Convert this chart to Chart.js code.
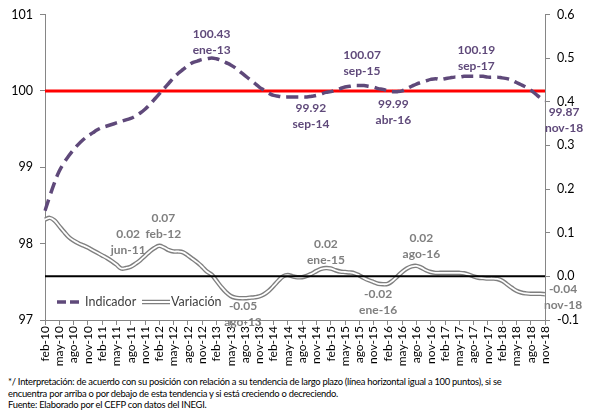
<!DOCTYPE html>
<html>
<head>
<meta charset="utf-8">
<script src="https://cdn.jsdelivr.net/npm/chart.js@4.4.1/dist/chart.umd.min.js"></script>
<style>
  body { margin: 0; background: #fff; width: 590px; height: 412px; overflow: hidden; font-family: Lato, sans-serif; }
  #wrap { position: relative; width: 590px; height: 376px; }
  .note { font-size: 9.4px; letter-spacing: -0.26px; color: #000; margin-left: 8px; line-height: 11.5px; white-space: nowrap; }
</style>
</head>
<body>
<div id="wrap"><canvas id="chart" width="590" height="376"></canvas></div>
<div class="note">*/ Interpretación: de acuerdo con su posición con relación a su tendencia de largo plazo (línea horizontal igual a 100 puntos), si se</div>
<div class="note">encuentra por arriba o por debajo de esta tendencia y si está creciendo o decreciendo.</div>
<div class="note">Fuente: Elaborado por el CEFP con datos del INEGI.</div>
<script>
const FONT = 'Lato, sans-serif';
const MONTHS = ['ene', 'feb', 'mar', 'abr', 'may', 'jun', 'jul', 'ago', 'sep', 'oct', 'nov', 'dic'];

// monthly labels feb-10 .. nov-18
const labels = [];
for (let y = 2010; y <= 2018; y++) {
    for (let m = 0; m < 12; m++) {
        if (y === 2010 && m < 1) continue;
        if (y === 2018 && m > 10) continue;
        labels.push(MONTHS[m] + '-' + String(y).slice(2));
    }
}

// Indicador (left axis, puntos)
const indicador = [
    98.43, 98.62, 98.80, 98.95, 99.06, 99.15, 99.23, 99.30, 99.36, 99.41, 99.45,          // 2010 feb-dic
    99.49, 99.52, 99.54, 99.56, 99.58, 99.60, 99.62, 99.64, 99.67, 99.71, 99.76, 99.82,   // 2011
    99.89, 99.96, 100.03, 100.10, 100.17, 100.23, 100.28, 100.33, 100.37, 100.39, 100.41, 100.42, // 2012
    100.43, 100.42, 100.40, 100.37, 100.34, 100.30, 100.25, 100.20, 100.15, 100.10, 100.05, 100.01, // 2013
    99.97, 99.94, 99.93, 99.92, 99.92, 99.92, 99.92, 99.92, 99.92, 99.93, 99.94, 99.96,   // 2014
    99.98, 99.99, 100.01, 100.03, 100.05, 100.06, 100.07, 100.07, 100.07, 100.06, 100.05, 100.03, // 2015
    100.02, 100.00, 99.99, 99.99, 100.00, 100.03, 100.06, 100.09, 100.11, 100.13, 100.15, 100.16, // 2016
    100.15, 100.16, 100.17, 100.18, 100.18, 100.19, 100.19, 100.19, 100.19, 100.19, 100.18, 100.18, // 2017
    100.18, 100.17, 100.16, 100.14, 100.11, 100.08, 100.05, 100.01, 99.96, 99.91, 99.87   // 2018 ene-nov
];

// Variación (right axis)
const variacion = [
    0.130, 0.134, 0.128, 0.115, 0.102, 0.090, 0.082, 0.076, 0.071, 0.066, 0.060,
    0.054, 0.048, 0.042, 0.035, 0.027, 0.018, 0.019, 0.022, 0.029, 0.037, 0.047, 0.057,
    0.065, 0.070, 0.066, 0.060, 0.057, 0.057, 0.055, 0.048, 0.040, 0.032, 0.022, 0.011,
    0.004, -0.010, -0.024, -0.036, -0.045, -0.049, -0.050, -0.050, -0.049, -0.048, -0.046, -0.041,
    -0.033, -0.022, -0.010, 0.000, 0.003, 0.000, -0.002, -0.002, 0.001, 0.006, 0.012, 0.017,
    0.019, 0.018, 0.014, 0.011, 0.010, 0.009, 0.007, 0.002, -0.004, -0.009, -0.013, -0.017,
    -0.018, -0.017, -0.010, 0.000, 0.010, 0.018, 0.023, 0.024, 0.020, 0.014, 0.010, 0.008,
    0.008, 0.008, 0.008, 0.008, 0.008, 0.007, 0.004, 0.000, -0.003, -0.004, -0.005, -0.005,
    -0.006, -0.010, -0.018, -0.026, -0.033, -0.037, -0.039, -0.040, -0.040, -0.040, -0.041
];

const LEVEL_INDICADOR = 100;
const LEVEL_VARIACION = 0;

// points that carry a value label
const marksIndicador = [35, 55, 67, 74, 91, 105];
const marksVariacion = [16, 24, 42, 59, 71, 78, 105];
// label placement relative to the point: [dx, dy of first line]
const placeIndicador = [[0, -24], [4, 11], [-2, -30], [-4, 12], [-2, -26], [19, 11]];
const placeVariacion = [[7, -34], [4, -28], [-2, 8], [0, -24], [-5, 10], [5, -28], [18, -5]];

const PURPLE = '#5F497A';
const GREY = '#7F7F7F';
const AXIS = '#868686';

const refLines = {
    id: 'refLines',
    beforeDatasetsDraw(chart) {
        const { ctx, chartArea, scales } = chart;
        const y = scales.y.getPixelForValue(LEVEL_INDICADOR);
        ctx.save();
        ctx.strokeStyle = '#FF0000';
        ctx.lineWidth = 3;
        ctx.beginPath();
        ctx.moveTo(chartArea.left, y);
        ctx.lineTo(chartArea.right, y);
        ctx.stroke();
        ctx.restore();
    },
    afterDatasetsDraw(chart) {
        const { ctx, chartArea, scales } = chart;
        const y = scales.y1.getPixelForValue(LEVEL_VARIACION);
        ctx.save();
        ctx.strokeStyle = '#000';
        ctx.lineWidth = 2;
        ctx.beginPath();
        ctx.moveTo(chartArea.left, y);
        ctx.lineTo(chartArea.right, y);
        ctx.stroke();
        ctx.restore();
    }
};

const valueLabels = {
    id: 'valueLabels',
    afterDraw(chart) {
        const { ctx, scales } = chart;
        ctx.save();
        ctx.font = 'bold 12px ' + FONT;
        ctx.textAlign = 'center';
        ctx.textBaseline = 'middle';
        const put = (marks, place, data, scale, color) => {
            ctx.fillStyle = color;
            marks.forEach((i, k) => {
                const x = scales.x.getPixelForValue(i) + place[k][0];
                const y = scale.getPixelForValue(data[i]) + place[k][1];
                ctx.fillText(data[i].toFixed(2), x, y);
                ctx.fillText(labels[i], x, y + 16);
            });
        };
        put(marksIndicador, placeIndicador, indicador, scales.y, PURPLE);
        put(marksVariacion, placeVariacion, variacion, scales.y1, GREY);
        ctx.restore();
    }
};

const legendBox = {
    id: 'legendBox',
    afterDraw(chart) {
        const { ctx, chartArea } = chart;
        const y = chartArea.bottom - 18;
        const x0 = chartArea.left + 12;
        ctx.save();
        ctx.lineWidth = 3.5;
        ctx.strokeStyle = PURPLE;
        ctx.setLineDash([9, 4]);
        ctx.beginPath();
        ctx.moveTo(x0, y);
        ctx.lineTo(x0 + 23, y);
        ctx.stroke();
        ctx.setLineDash([]);
        ctx.font = '12.5px ' + FONT;
        ctx.fillStyle = '#404040';
        ctx.textBaseline = 'middle';
        ctx.fillText('Indicador', x0 + 28, y);
        const x1 = x0 + 85;
        ctx.strokeStyle = GREY;
        ctx.lineWidth = 4.5;
        ctx.beginPath();
        ctx.moveTo(x1, y);
        ctx.lineTo(x1 + 28, y);
        ctx.stroke();
        ctx.strokeStyle = '#fff';
        ctx.lineWidth = 2;
        ctx.beginPath();
        ctx.moveTo(x1, y);
        ctx.lineTo(x1 + 28, y);
        ctx.stroke();
        ctx.fillStyle = '#404040';
        ctx.fillText('Variación', x1 + 29, y);
        ctx.restore();
    }
};

new Chart(document.getElementById('chart'), {
    type: 'line',
    data: {
        labels: labels,
        datasets: [
            {
                label: 'Indicador',
                data: indicador,
                yAxisID: 'y',
                order: 1,
                borderColor: PURPLE,
                borderWidth: 3.5,
                borderDash: [12, 6],
                pointRadius: 0,
                tension: 0.4
            },
            {
                label: 'Variación',
                data: variacion,
                yAxisID: 'y1',
                order: 2,
                borderColor: '#FFFFFF',
                borderWidth: 1.8,
                pointRadius: 0,
                tension: 0.4
            },
            {
                label: 'Variación',
                data: variacion,
                yAxisID: 'y1',
                order: 3,
                borderColor: GREY,
                borderWidth: 4.5,
                pointRadius: 0,
                tension: 0.4
            }
        ]
    },
    options: {
        responsive: false,
        animation: false,
        maintainAspectRatio: false,
        layout: { padding: { top: 12, left: 0, right: 0, bottom: 0 } },
        plugins: {
            legend: { display: false },
            tooltip: { enabled: false }
        },
        scales: {
            x: {
                type: 'category',
                offset: false,
                afterFit: (s) => { s.height = 56; },
                grid: { display: true, drawOnChartArea: false, drawTicks: true, tickLength: 5, color: AXIS },
                border: { color: AXIS, width: 1 },
                ticks: {
                    autoSkip: false,
                    maxRotation: 90,
                    minRotation: 90,
                    padding: 1,
                    color: '#000',
                    font: { size: 12, family: FONT },
                    callback: (v, i) => (i % 3 === 0 ? labels[i] : null)
                }
            },
            y: {
                position: 'left',
                min: 97,
                max: 101,
                afterFit: (s) => { s.width = 45; },
                grid: { display: true, drawOnChartArea: false, tickLength: 5, color: AXIS },
                border: { color: AXIS, width: 1 },
                ticks: { stepSize: 1, padding: 7, color: '#000', font: { size: 12.5, family: FONT } }
            },
            y1: {
                position: 'right',
                min: -0.1,
                max: 0.6,
                afterFit: (s) => { s.width = 45; },
                grid: { display: true, drawOnChartArea: false, tickLength: 5, color: AXIS },
                border: { color: AXIS, width: 1 },
                ticks: {
                    stepSize: 0.1,
                    padding: 7,
                    color: '#000',
                    font: { size: 12.5, family: FONT },
                    callback: (v) => (Math.abs(v) < 1e-9 ? 0 : v).toFixed(1)
                }
            }
        }
    },
    plugins: [refLines, valueLabels, legendBox]
});
</script>
</body>
</html>
